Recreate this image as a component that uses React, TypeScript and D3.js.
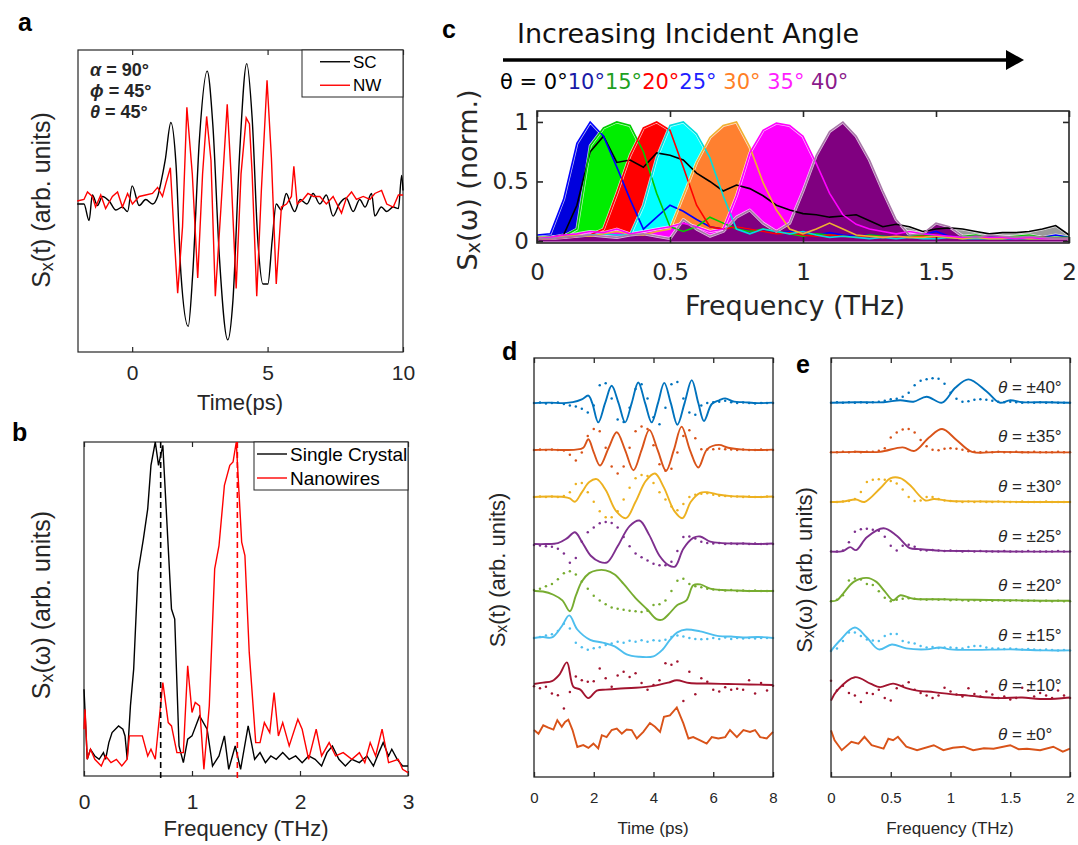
import React, { useEffect, useRef } from 'react';
import * as d3 from 'd3';

type Pt = [number, number];

const ARIAL = '"Liberation Sans", Arial, sans-serif';
const VERDANA = '"DejaVu Sans", Verdana, sans-serif';
const INK = '#262626';

// ---------- panel a : time traces (ps, arb.)
const aSC: Pt[] = [
  [-2.03, -0.02], [-1.78, -0.02], [-1.59, -0.13], [-1.47, 0.04], [-1.28, -0.03], [-1.1, 0.03], [-0.85, 0], [-0.6, -0.06],
  [-0.36, -0.04], [-0.17, -0.07], [0, 0.1], [0.26, -0.03], [0.5, 0.01], [0.75, -0.02], [0.94, 0.03], [1.06, 0.12],
  [1.22, 0.27], [1.43, 0.52], [1.62, 0.24], [1.8, -0.48], [2.07, -0.83], [2.23, -0.5], [2.48, 0.4], [2.77, 0.86],
  [2.98, 0.5], [3.22, -0.37], [3.53, -0.92], [3.72, -0.66], [3.96, 0.29], [4.23, 0.91], [4.43, 0.55], [4.64, -0.26],
  [4.83, -0.55], [5.01, -0.55], [5.17, -0.26], [5.32, -0.02], [5.51, -0.06], [5.69, 0.05], [5.85, -0.02], [6.0, -0.07],
  [6.2, 0.01], [6.45, -0.02], [6.68, 0.05], [6.93, -0.02], [7.17, 0.04], [7.42, -0.1], [7.65, -0.02], [7.9, 0.02],
  [8.16, -0.07], [8.4, 0.01], [8.6, -0.04], [8.84, 0.05], [8.96, -0.1], [9.2, -0.04], [9.4, -0.07], [9.64, -0.04],
  [9.83, -0.05], [9.95, 0.17], [10, 0.07],
];
const aNW: Pt[] = [
  [-2.03, 0], [-1.78, 0.01], [-1.65, 0.06], [-1.47, 0.03], [-1.35, -0.04], [-1.16, 0.04], [-0.98, -0.05], [-0.73, 0.03],
  [-0.54, 0.06], [-0.36, -0.04], [-0.17, 0.05], [0.01, -0.02], [0.26, 0.03], [0.5, 0.04], [0.75, 0.05], [0.94, 0.09],
  [1.12, 0.03], [1.25, 0.12], [1.41, 0.22], [1.56, -0.26], [1.68, -0.61], [1.86, -0.17], [2.02, 0.62], [2.22, 0.18],
  [2.42, -0.51], [2.6, 0.18], [2.75, 0.56], [2.91, 0.27], [3.07, -0.63], [3.28, -0.04], [3.51, 0.64], [3.65, 0.18],
  [3.84, -0.58], [4.02, 0.18], [4.21, 0.55], [4.33, 0.51], [4.43, 0.18], [4.6, -0.63], [4.77, 0.07], [4.98, 0.8],
  [5.14, 0.29], [5.32, -0.55], [5.51, -0.04], [5.7, -0.02], [5.88, 0.03], [5.97, 0.23], [6.09, -0.02], [6.31, 0.01],
  [6.49, 0.05], [6.7, 0.03], [6.93, 0.03], [7.17, -0.02], [7.42, 0.03], [7.73, -0.08], [7.91, 0.02], [8.1, 0.06],
  [8.28, 0.01], [8.53, 0.03], [8.78, 0.01], [8.96, 0.05], [9.21, 0.07], [9.4, -0.02], [9.64, -0.04], [9.83, 0.04], [10, 0.04],
];
const aTicks = [0, 5, 10];
const aNotes: [string, string][] = [['α', ' = 90°'], ['ϕ', ' = 45°'], ['θ', ' = 45°']];
const aLegend = ['SC', 'NW'];

// ---------- panel b : spectra (THz, arb.)
const bSC: Pt[] = [
  [0, 0.26], [0.03, 0.05], [0.06, 0.08], [0.1, 0.06], [0.14, 0.05], [0.18, 0.07], [0.2, 0.05], [0.23, 0.1], [0.26, 0.13],
  [0.32, 0.15], [0.36, 0.14], [0.38, 0.12], [0.4, 0.05], [0.43, 0.21], [0.46, 0.32], [0.5, 0.61], [0.55, 0.71], [0.59, 0.8],
  [0.62, 0.93], [0.66, 1.0], [0.69, 0.93], [0.73, 0.99], [0.81, 0.5], [0.84, 0.47], [0.88, 0.09], [0.92, 0.04], [0.96, 0.11],
  [1.0, 0.12], [1.07, 0.18], [1.14, 0.14], [1.19, 0.03], [1.25, 0.06], [1.3, 0.12], [1.34, 0.02], [1.4, 0.09], [1.45, 0.02],
  [1.52, 0.15], [1.58, 0.05], [1.63, 0.07], [1.68, 0.04], [1.73, 0.06], [1.78, 0.05], [1.84, 0.07], [1.9, 0.05], [1.96, 0.06],
  [2.02, 0.04], [2.08, 0.06], [2.14, 0.05], [2.2, 0.03], [2.25, 0.07], [2.3, 0.09], [2.36, 0.05], [2.42, 0.03], [2.48, 0.05],
  [2.55, 0.04], [2.62, 0.06], [2.68, 0.03], [2.73, 0.07], [2.77, 0.1], [2.82, 0.06], [2.85, 0.08], [2.9, 0.05], [2.95, 0.03], [3.0, 0.03],
];
const bNW: Pt[] = [
  [0, 0.14], [0.01, 0.2], [0.03, 0.05], [0.06, 0.08], [0.1, 0.05], [0.16, 0.03], [0.2, 0.06], [0.25, 0.04], [0.3, 0.05],
  [0.35, 0.03], [0.4, 0.05], [0.42, 0.12], [0.48, 0.12], [0.54, 0.12], [0.59, 0.06], [0.62, 0.08], [0.66, 0.05], [0.73, 0.28],
  [0.78, 0.16], [0.81, 0.15], [0.86, 0.07], [0.92, 0.07], [0.96, 0.33], [1.0, 0.19], [1.03, 0.22], [1.07, 0.21], [1.11, 0.02],
  [1.16, 0.21], [1.21, 0.62], [1.25, 0.69], [1.3, 0.87], [1.35, 0.93], [1.38, 0.94], [1.41, 1.0], [1.46, 0.7], [1.49, 0.66],
  [1.53, 0.37], [1.59, 0.1], [1.63, 0.1], [1.67, 0.16], [1.72, 0.13], [1.76, 0.25], [1.8, 0.12], [1.84, 0.16], [1.9, 0.09],
  [1.98, 0.17], [2.02, 0.14], [2.08, 0.05], [2.15, 0.14], [2.2, 0.06], [2.27, 0.1], [2.33, 0.06], [2.4, 0.07], [2.48, 0.05],
  [2.55, 0.07], [2.6, 0.04], [2.65, 0.1], [2.7, 0.06], [2.76, 0.14], [2.82, 0.04], [2.91, 0.05], [2.95, 0.02], [3.0, 0.01],
];
const bTicks = [0, 1, 2, 3];
const bPeaks = [0.71, 1.42];
const bLegend = ['Single Crystal', 'Nanowires'];

// ---------- panel c : normalised spectra, 0 to 2 THz every 0.05 THz
const cStep = 0.05;
const c0 = [0.02, 0.03, 0.05, 0.3, 0.75, 0.88, 0.66, 0.68, 0.62, 0.74, 0.72, 0.68, 0.57, 0.5, 0.42, 0.47, 0.44, 0.38, 0.3, 0.26,
  0.23, 0.22, 0.2, 0.21, 0.22, 0.17, 0.12, 0.14, 0.12, 0.08, 0.1, 0.11, 0.1, 0.08, 0.06, 0.07, 0.07, 0.08, 0.1, 0.13, 0.05];
const c10 = [0.05, 0.06, 0.35, 0.82, 1.0, 0.88, 0.62, 0.35, 0.1, 0.2, 0.3, 0.25, 0.18, 0.12, 0.1, 0.12, 0.1, 0.08, 0.06, 0.08,
  0.06, 0.05, 0.07, 0.05, 0.04, 0.05, 0.04, 0.03, 0.04, 0.05, 0.08, 0.04, 0.03, 0.03, 0.04, 0.03, 0.03, 0.04, 0.03, 0.05, 0.03];
const c15 = [0.03, 0.03, 0.04, 0.1, 0.8, 0.95, 1.0, 0.97, 0.75, 0.4, 0.12, 0.08, 0.12, 0.2, 0.15, 0.1, 0.08, 0.1, 0.08, 0.06,
  0.04, 0.06, 0.05, 0.04, 0.03, 0.05, 0.04, 0.03, 0.04, 0.05, 0.04, 0.03, 0.04, 0.05, 0.03, 0.03, 0.04, 0.05, 0.03, 0.03, 0.03];
const c20 = [0.02, 0.02, 0.03, 0.04, 0.05, 0.1, 0.4, 0.72, 0.95, 1.0, 0.93, 0.62, 0.3, 0.12, 0.1, 0.12, 0.1, 0.08, 0.06, 0.07,
  0.05, 0.04, 0.05, 0.04, 0.03, 0.04, 0.03, 0.03, 0.03, 0.04, 0.03, 0.03, 0.02, 0.03, 0.02, 0.03, 0.02, 0.02, 0.03, 0.02, 0.02];
const c25 = [0.03, 0.03, 0.04, 0.04, 0.05, 0.06, 0.05, 0.05, 0.3, 0.7, 0.97, 1.0, 0.9, 0.7, 0.38, 0.1, 0.06, 0.1, 0.08, 0.06,
  0.08, 0.05, 0.03, 0.04, 0.03, 0.02, 0.03, 0.02, 0.03, 0.02, 0.02, 0.03, 0.02, 0.02, 0.02, 0.02, 0.02, 0.02, 0.02, 0.02, 0.02];
const c30 = [0.03, 0.03, 0.04, 0.05, 0.04, 0.06, 0.08, 0.06, 0.05, 0.08, 0.1, 0.38, 0.66, 0.87, 0.97, 1.0, 0.79, 0.49, 0.26, 0.1,
  0.06, 0.1, 0.15, 0.1, 0.05, 0.04, 0.03, 0.04, 0.03, 0.03, 0.04, 0.03, 0.02, 0.03, 0.02, 0.02, 0.03, 0.02, 0.02, 0.02, 0.02];
const c35 = [0.02, 0.03, 0.05, 0.06, 0.08, 0.07, 0.1, 0.06, 0.08, 0.1, 0.12, 0.15, 0.12, 0.08, 0.1, 0.38, 0.74, 0.93, 0.99, 0.97,
  0.88, 0.65, 0.4, 0.22, 0.14, 0.1, 0.08, 0.06, 0.08, 0.06, 0.05, 0.04, 0.03, 0.04, 0.03, 0.03, 0.02, 0.03, 0.02, 0.02, 0.02];
const c40 = [0.02, 0.02, 0.03, 0.04, 0.05, 0.04, 0.03, 0.05, 0.06, 0.04, 0.02, 0.18, 0.1, 0.04, 0.08, 0.2, 0.26, 0.15, 0.08, 0.15,
  0.42, 0.72, 0.92, 1.0, 0.88, 0.68, 0.42, 0.18, 0.05, 0.06, 0.15, 0.12, 0.04, 0.03, 0.05, 0.04, 0.03, 0.04, 0.03, 0.02, 0.02];
const cSeries = [c0, c10, c15, c20, c25, c30, c35, c40];
const cLegendText = ['θ = 0°', '10°', '15°', '20°', '25°', ' 30°', ' 35°', ' 40°'];
const cFill = ['#9a9a9a', '#0000dd', '#00ee00', '#ff0000', '#00ffff', '#ff8030', '#ff00ff', '#800080'];
const cLine = ['#000000', '#0000ff', '#00cc00', '#ff0000', '#00dddd', '#f0b030', '#ff00ff', '#a878a8'];
const cLegendColor = ['#000000', '#1a1aa6', '#1fa01f', '#ff0000', '#1f1fff', '#ff7f27', '#ff1fff', '#8b1a8b'];
const cXTicks = [0, 0.5, 1, 1.5, 2];
const cYTicks = [0, 0.5, 1];

// ---------- panels d, e : offset traces, index 0 = 0° (bottom) ... 7 = 40° (top)
const deAngles = ['±0°', '±10°', '±15°', '±20°', '±25°', '±30°', '±35°', '±40°'];
const deColors = ['#D95319', '#A2142F', '#4DBEEE', '#77AC30', '#7E2F8E', '#EDB120', '#D95319', '#0072BD'];

const dStep = 0.2; // ps between dots
const dS0: Pt[] = [[0, 0.04], [0.15, -0.04], [0.31, 0.14], [0.48, 0.09], [0.65, 0.05], [0.78, 0.25], [0.93, 0.11], [1.04, 0.21],
  [1.15, 0.26], [1.29, 0.04], [1.45, -0.32], [1.65, -0.28], [1.82, -0.34], [1.99, -0.25], [2.15, -0.35], [2.27, -0.07],
  [2.43, -0.11], [2.6, 0.04], [2.77, 0.07], [2.94, -0.04], [3.1, 0.05], [3.27, 0.04], [3.44, -0.14], [3.66, 0], [3.88, 0.19],
  [4.05, 0.11], [4.22, 0], [4.35, 0.32], [4.55, 0.35], [4.78, 0.52], [5.0, 0.18], [5.17, -0.14], [5.33, -0.11], [5.56, -0.18],
  [5.78, -0.25], [5.95, -0.11], [6.17, -0.14], [6.4, -0.11], [6.56, 0.04], [6.79, -0.11], [7.01, 0.04], [7.23, 0], [7.4, 0.04],
  [7.57, -0.11], [7.79, -0.14], [8, 0]];
const dS10: Pt[] = [[0, 0.02], [0.3, 0.05], [0.6, 0.08], [0.85, 0.22], [1.1, 0.48], [1.32, -0.04], [1.55, -0.1], [1.82, -0.28],
  [2.1, -0.12], [2.4, -0.1], [2.8, -0.08], [3.4, -0.06], [4.0, -0.02], [4.5, 0.05], [4.78, 0.1], [5.2, 0.04], [5.8, 0.03],
  [6.5, 0.02], [7.2, 0.01], [8, 0]];
const dS15: Pt[] = [[0, 0], [0.3, 0.02], [0.6, 0.01], [0.93, 0.25], [1.18, 0.48], [1.45, 0.18], [1.88, -0.04], [2.3, -0.1],
  [2.7, -0.18], [3.1, -0.35], [3.5, -0.4], [4.0, -0.39], [4.3, -0.25], [4.55, -0.04], [4.8, 0.12], [5.1, 0.18], [5.56, 0.14],
  [6.2, 0.04], [6.6, 0.03], [7, 0.01], [7.5, 0.02], [8, 0]];
const dS20: Pt[] = [[0, 0], [0.3, -0.01], [0.65, -0.08], [0.95, -0.2], [1.2, -0.43], [1.4, -0.1], [1.6, 0.2], [1.85, 0.38],
  [2.1, 0.44], [2.4, 0.44], [2.7, 0.35], [3.0, 0.15], [3.4, -0.15], [3.8, -0.4], [4.1, -0.6], [4.3, -0.61], [4.5, -0.5],
  [4.8, -0.3], [5.1, -0.2], [5.33, 0.12], [5.56, 0.14], [5.9, 0.05], [6.3, 0.02], [6.8, 0.01], [7.3, 0], [8, 0]];
const dS25: Pt[] = [[0, 0], [0.4, 0], [0.8, 0.02], [1.1, 0.12], [1.37, 0.25], [1.6, 0.05], [1.9, -0.25], [2.2, -0.38],
  [2.45, -0.39], [2.8, -0.05], [3.2, 0.38], [3.53, 0.5], [3.85, 0.2], [4.2, -0.25], [4.5, -0.45], [4.72, -0.48], [5.0, -0.1],
  [5.33, 0.13], [5.56, 0.16], [5.9, 0.05], [6.3, 0.02], [7, 0.01], [7.5, 0], [8, 0.01]];
const dS30: Pt[] = [[0, 0], [0.5, 0.01], [1.0, 0], [1.2, -0.03], [1.37, -0.1], [1.6, 0.1], [1.85, 0.32], [2.1, 0.38], [2.4, 0.15],
  [2.75, -0.3], [3.08, -0.45], [3.4, -0.1], [3.75, 0.35], [4.05, 0.5], [4.35, 0.2], [4.7, -0.3], [4.97, -0.45], [5.25, -0.1],
  [5.56, 0.09], [5.84, 0.1], [6.2, 0.05], [6.6, 0.02], [7, 0.01], [7.5, 0], [8, 0.01]];
const dS35: Pt[] = [[0, 0], [0.5, 0.01], [1.0, 0], [1.4, 0.01], [1.65, 0.05], [1.82, 0.23], [2.0, -0.05], [2.21, -0.33], [2.5, 0.05],
  [2.77, 0.38], [3.05, 0], [3.33, -0.43], [3.6, 0], [3.86, 0.43], [4.14, 0], [4.42, -0.44], [4.68, 0], [4.94, 0.5], [5.22, 0],
  [5.5, -0.37], [5.8, 0.02], [6.19, 0.11], [6.5, 0.05], [7.0, 0.01], [7.5, 0], [8, 0.01]];
const dS40: Pt[] = [[0, 0], [0.5, 0.01], [1.0, 0], [1.3, 0.02], [1.6, 0.08], [1.82, 0.16], [1.95, 0], [2.15, -0.41], [2.38, 0],
  [2.6, 0.37], [2.83, 0], [3.05, -0.41], [3.27, 0], [3.49, 0.44], [3.72, 0], [3.94, -0.41], [4.15, 0], [4.36, 0.43], [4.58, 0],
  [4.8, -0.46], [5.04, 0], [5.28, 0.49], [5.5, 0], [5.69, -0.38], [5.95, -0.02], [6.2, 0.06], [6.4, 0.1], [6.7, 0.03], [7.0, 0.02],
  [7.5, 0], [8, 0.01]];
const dD10 = [-0.03, -0.07, -0.04, -0.18, -0.22, -0.5, -0.15, 0.18, 0.1, 0.07, 0.08, 0.35, 0.14, -0.04, 0.2, 0.28, 0.17, 0.25, 0.04, -0.1,
  0, 0.1, 0.46, 0.43, 0.5, -0.34, 0.28, -0.2, 0.14, 0.07, -0.1, -0.14, -0.05, -0.1, -0.08, -0.1, 0.1, -0.18, 0.04, -0.12, -0.02];
const dD15 = [0, 0.02, 0.05, 0.08, 0.15, 0.3, 0.2, -0.1, -0.2, -0.25, -0.22, -0.2, -0.15, -0.12, -0.08, -0.1, -0.06, -0.08, -0.05, -0.08,
  -0.05, -0.06, -0.04, 0.02, 0.05, 0.03, 0, -0.02, -0.03, -0.02, 0, -0.02, 0.01, -0.02, 0, -0.01, 0, -0.01, 0, 0, 0];
const dD20 = [0.02, 0.05, 0.1, 0.15, 0.25, 0.38, 0.42, 0.35, 0.2, 0.05, -0.1, -0.2, -0.28, -0.35, -0.38, -0.4, -0.42, -0.43, -0.45, -0.42,
  -0.3, -0.28, -0.2, 0, 0.22, 0.26, 0.15, 0.1, 0.08, 0.05, 0.03, 0.02, 0.01, 0.02, 0, 0.01, 0, 0.01, 0, 0, 0];
const dD25 = [-0.02, -0.03, -0.05, -0.06, -0.1, -0.2, -0.4, -0.3, 0.05, 0.25, 0.35, 0.44, 0.47, 0.45, 0.35, 0.15, -0.05, -0.2, -0.28, -0.35,
  -0.42, -0.45, -0.45, -0.38, -0.15, 0.15, 0.16, 0.12, 0.05, 0.02, 0.01, 0.02, 0, 0.01, 0, 0.01, 0, 0.01, 0, 0, 0];
const dD30 = [0, 0.01, 0, 0.01, 0, 0.02, 0.1, 0.28, 0.3, 0.1, -0.1, -0.3, -0.43, -0.43, -0.3, -0.05, 0.2, 0.4, 0.47, 0.45,
  0.3, 0.1, -0.05, -0.2, -0.28, -0.15, 0, 0.05, 0.07, 0.08, 0.05, 0.03, 0.02, 0.01, 0.01, 0, 0.01, 0, 0, 0.01, 0];
const dD35 = [0, 0.01, 0, 0.01, 0, -0.01, -0.1, -0.22, -0.05, 0.3, 0.45, 0.4, 0.05, -0.35, -0.5, -0.35, 0.05, 0.4, 0.5, 0.45,
  0.1, -0.3, -0.44, -0.4, -0.05, 0.3, 0.42, 0.25, 0.02, 0.01, 0.02, 0.03, 0.02, 0.01, 0, 0.01, 0, 0, 0.01, 0, 0];
const dD40 = [0, 0.01, -0.01, 0, 0.01, -0.02, -0.05, -0.07, -0.12, -0.2, -0.05, 0.38, 0.42, 0.1, -0.35, -0.4, -0.1, 0.3, 0.4, 0.1,
  -0.3, -0.45, -0.1, 0.4, 0.45, 0.1, -0.2, -0.25, -0.05, 0, 0.02, 0.03, 0.05, 0.02, 0, 0.01, 0, -0.01, 0, 0, 0];
const dSolid = [dS0, dS10, dS15, dS20, dS25, dS30, dS35, dS40];
const dDots = [null, dD10, dD15, dD20, dD25, dD30, dD35, dD40];
const dTicks = [0, 2, 4, 6, 8];

const eStep = 0.05; // THz between dots
const eS0: Pt[] = [[0, 0.4], [0.03, 0.2], [0.09, 0], [0.17, 0.17], [0.23, 0.13], [0.28, 0.27], [0.34, 0.1], [0.44, 0.03], [0.48, 0.23],
  [0.52, 0.2], [0.56, 0.27], [0.63, 0.07], [0.72, 0], [0.86, 0.1], [0.94, 0], [1.02, 0.05], [1.11, 0.07], [1.19, 0], [1.28, 0.04],
  [1.36, 0.03], [1.5, 0.1], [1.57, 0.02], [1.64, 0.03], [1.75, 0], [1.86, 0.07], [1.94, -0.03], [2, 0.03]];
const eS10: Pt[] = [[0, 0], [0.05, 0.2], [0.2, 0.47], [0.33, 0.34], [0.41, 0.27], [0.52, 0.34], [0.63, 0.25], [0.72, 0.2], [0.86, 0.17],
  [1.0, 0.13], [1.15, 0.1], [1.4, 0.05], [1.6, 0.06], [1.75, 0.03], [1.95, 0.05], [2, 0.06]];
const eS15: Pt[] = [[0, 0], [0.07, 0.2], [0.2, 0.47], [0.3, 0.27], [0.4, 0.03], [0.51, 0.13], [0.63, 0.05], [0.8, 0.03], [0.91, 0.07],
  [1.0, 0.03], [1.2, 0.02], [1.5, 0.03], [1.8, 0.01], [2, 0.01]];
const eS20: Pt[] = [[0, 0], [0.05, 0.02], [0.1, 0.15], [0.19, 0.39], [0.3, 0.47], [0.38, 0.39], [0.45, 0.2], [0.52, 0.02], [0.58, 0.12],
  [0.69, 0.05], [0.9, 0.04], [1.2, 0.03], [1.5, 0.02], [1.8, 0.01], [2, 0.01]];
const eS25: Pt[] = [[0, 0], [0.1, 0.01], [0.16, 0.09], [0.21, 0.03], [0.3, 0.29], [0.44, 0.47], [0.55, 0.32], [0.66, 0.07], [0.74, 0.05],
  [0.91, 0.02], [1.2, 0.01], [1.6, 0], [2, 0]];
const eS30: Pt[] = [[0, 0], [0.1, 0.01], [0.21, 0.05], [0.28, 0], [0.41, 0.27], [0.5, 0.48], [0.58, 0.48], [0.66, 0.34], [0.79, 0.03],
  [0.86, 0.06], [1.0, 0.02], [1.3, 0.01], [1.6, 0], [2, 0]];
const eS35: Pt[] = [[0, 0], [0.2, 0.01], [0.41, 0.01], [0.6, 0.1], [0.7, 0.03], [0.82, 0.3], [0.93, 0.47], [1.05, 0.25], [1.18, 0.01],
  [1.4, 0.01], [1.7, 0], [2, 0]];
const eS40: Pt[] = [[0, 0], [0.2, 0.01], [0.44, 0.01], [0.58, 0.05], [0.69, 0.02], [0.8, 0.12], [0.93, 0], [1.04, 0.3], [1.15, 0.47],
  [1.3, 0.23], [1.41, 0], [1.5, 0.05], [1.6, 0.01], [1.8, 0.01], [2, 0]];
const eD10 = [0.4, 0.2, 0.3, 0.15, 0.1, -0.03, 0.15, 0.13, 0.22, 0.05, 0, 0.25, 0.3, 0.37, 0.22, 0.15, 0.1, 0.05, 0.1, 0.26,
  0.18, 0.12, 0.08, 0.25, 0.13, 0.08, 0.18, 0.12, 0.05, 0.08, 0.02, 0.05, 0.26, 0.2, 0.08, 0.15, 0.1, 0.05, 0.2, 0.1, 0.05];
const eD15 = [0, 0.05, 0.2, 0.37, 0.37, 0.3, 0.23, 0.21, 0.2, 0.3, 0.34, 0.34, 0.2, 0.17, 0.15, 0.1, 0.07, 0.08, 0.06, 0.07,
  0.07, 0.06, 0.05, 0.08, 0.1, 0.1, 0.07, 0.05, 0.05, 0.04, 0.05, 0.04, 0.03, 0.04, 0.03, 0.02, 0.03, 0.02, 0.01, 0.02, 0.01];
const eD20 = [0, 0.03, 0.12, 0.42, 0.46, 0.44, 0.35, 0.33, 0.2, 0.07, 0, 0.03, 0.05, 0.06, 0.05, 0.04, 0.03, 0.04, 0.03, 0.04,
  0.02, 0.03, 0.02, 0.01, 0.02, 0.01, 0.02, 0.01, 0.02, 0.01, 0.01, 0.02, 0.01, 0.01, 0.01, 0, 0.01, 0, 0.01, 0, 0];
const eD25 = [0, 0, 0.02, 0.19, 0.4, 0.45, 0.46, 0.44, 0.42, 0.3, 0.12, 0.02, 0.12, 0.14, 0.1, 0.03, 0.02, 0.03, 0.02, 0.01,
  0.02, 0.01, 0, 0.01, 0, 0.01, 0, 0, 0, 0.01, 0, 0, 0, 0.01, 0, 0, 0, 0, 0.01, 0, 0];
const eD30 = [0, 0, 0.01, 0.02, 0.06, 0.2, 0.4, 0.45, 0.46, 0.45, 0.42, 0.37, 0.25, 0.1, 0.02, 0.03, 0.1, 0.1, 0.06, 0.03,
  0.02, 0.01, 0, 0.01, 0, 0.01, 0, 0, 0.01, 0, 0, 0, 0.01, 0, 0, 0, 0.01, 0, 0, 0, 0];
const eD35 = [0, 0, 0.01, 0, 0.01, 0, 0.01, 0.01, 0.03, 0.08, 0.3, 0.4, 0.46, 0.47, 0.4, 0.25, 0.12, 0.05, 0.04, 0.07,
  0.08, 0.07, 0.05, 0.02, 0.01, 0, 0.01, 0, 0.01, 0, 0, 0.01, 0, 0, 0.01, 0, 0, 0, 0.01, 0, 0];
const eD40 = [0, 0.01, 0, 0.01, 0, 0.01, 0, 0.01, 0.02, 0.04, 0.07, 0.08, 0.12, 0.2, 0.35, 0.44, 0.47, 0.49, 0.48, 0.38,
  0.2, 0.08, 0.02, 0.03, 0.06, 0.07, 0.06, 0.04, 0.02, 0.01, 0.02, 0.01, 0, 0.01, 0, 0.01, 0, 0.01, 0, 0, 0];
const eSolid = [eS0, eS10, eS15, eS20, eS25, eS30, eS35, eS40];
const eDots = [null, eD10, eD15, eD20, eD25, eD30, eD35, eD40];
const eTicks = [0, 0.5, 1, 1.5, 2];

// box + inward ticks, labels on the bottom (and left if asked)
function frame(svg: any, x: any, y: any, o: any) {
  const [x0, x1] = x.range();
  const [yb, yt] = y.range();
  const len = o.len ?? 5;
  const fmt = (d: number) => String(d);
  const g = svg.append('g').attr('color', INK);
  const bot = g.append('g').attr('transform', `translate(0,${yb})`)
    .call(d3.axisBottom(x).tickValues(o.xt).tickSizeInner(-len).tickSizeOuter(0).tickPadding(o.pad).tickFormat(fmt));
  bot.selectAll('text').attr('font-family', o.font).attr('font-size', o.fs);
  g.append('g').attr('transform', `translate(0,${yt})`)
    .call(d3.axisTop(x).tickValues(o.xt).tickSizeInner(-len).tickSizeOuter(0).tickFormat(() => ''));
  if (o.yt) {
    const lft = g.append('g').attr('transform', `translate(${x0},0)`)
      .call(d3.axisLeft(y).tickValues(o.yt).tickSizeInner(-len).tickSizeOuter(0).tickPadding(o.ypad).tickFormat(fmt));
    lft.selectAll('text').attr('font-family', o.font).attr('font-size', o.fs);
    g.append('g').attr('transform', `translate(${x1},0)`)
      .call(d3.axisRight(y).tickValues(o.yt).tickSizeInner(-len).tickSizeOuter(0).tickFormat(() => ''));
  }
  g.selectAll('.domain').remove();
  g.selectAll('.tick line').attr('stroke-width', o.sw ?? 1.2);
  g.append('rect').attr('x', x0).attr('y', yt).attr('width', x1 - x0).attr('height', yb - yt)
    .attr('fill', 'none').attr('stroke', INK).attr('stroke-width', o.sw ?? 1.2);
}

function title(svg: any, x: number, y: number, txt: string, fs: number, font: string) {
  svg.append('text').attr('x', x).attr('y', y).attr('text-anchor', 'middle')
    .attr('font-family', font).attr('font-size', fs).attr('fill', INK).text(txt);
}

function yTitle(svg: any, x: number, y: number, rest: string, fs: number, font: string) {
  const t = svg.append('text').attr('transform', `translate(${x},${y}) rotate(-90)`).attr('text-anchor', 'middle')
    .attr('font-family', font).attr('font-size', fs).attr('fill', INK);
  t.append('tspan').text('S');
  t.append('tspan').attr('font-size', fs * 0.72).attr('dy', fs * 0.1).text('x');
  t.append('tspan').attr('dy', -fs * 0.1).text(rest);
}

function panelLabel(svg: any, x: number, y: number, txt: string) {
  svg.append('text').attr('x', x).attr('y', y).attr('font-family', ARIAL).attr('font-weight', 'bold')
    .attr('font-size', 25).attr('fill', '#000').text(txt);
}

function legend(svg: any, box: number[], names: string[], colors: string[], fs: number, inset: number) {
  const [lx, ly, lw, lh] = box;
  svg.append('rect').attr('x', lx).attr('y', ly).attr('width', lw).attr('height', lh)
    .attr('fill', '#fff').attr('stroke', INK).attr('stroke-width', 1);
  const row = lh / names.length;
  names.forEach((n, i) => {
    const cy = ly + row * (i + 0.5);
    svg.append('line').attr('x1', lx + inset).attr('x2', lx + inset + 30).attr('y1', cy).attr('y2', cy)
      .attr('stroke', colors[i]).attr('stroke-width', 1.4);
    svg.append('text').attr('x', lx + inset + 33).attr('y', cy).attr('dy', '0.35em')
      .attr('font-family', ARIAL).attr('font-size', fs).attr('fill', '#000').text(n);
  });
}

function drawA(svg: any) {
  const x = d3.scaleLinear([-2, 10], [78, 403]);
  const y = d3.scaleLinear([-1, 1], [352, 50]);
  frame(svg, x, y, { xt: aTicks, fs: 21, font: ARIAL, pad: 13 });
  const sc = d3.line<Pt>().x(d => x(d[0])).y(d => y(d[1])).curve(d3.curveMonotoneX);
  const nw = d3.line<Pt>().x(d => x(d[0])).y(d => y(d[1]));
  svg.append('path').attr('d', sc(aSC)).attr('fill', 'none').attr('stroke', '#000').attr('stroke-width', 1.4);
  svg.append('path').attr('d', nw(aNW)).attr('fill', 'none').attr('stroke', '#ff0000').attr('stroke-width', 1.4);
  legend(svg, [302, 50, 101, 47], aLegend, ['#000', '#ff0000'], 17, 18);
  aNotes.forEach(([g, rest], i) => {
    const t = svg.append('text').attr('x', 90).attr('y', 76 + i * 21).attr('font-family', ARIAL)
      .attr('font-weight', 'bold').attr('font-size', 18).attr('fill', INK);
    t.append('tspan').attr('font-style', 'italic').text(g);
    t.append('tspan').text(rest);
  });
  title(svg, 240, 410, 'Time(ps)', 22, ARIAL);
  yTitle(svg, 50, 200, '(t) (arb. units)', 25, ARIAL);
  panelLabel(svg, 18, 31, 'a');
}

function drawB(svg: any) {
  const x = d3.scaleLinear([0, 3], [84, 408]);
  const y = d3.scaleLinear([0, 1], [776, 442]);
  frame(svg, x, y, { xt: bTicks, fs: 21, font: ARIAL, pad: 18 });
  const ln = d3.line<Pt>().x(d => x(d[0])).y(d => y(d[1]));
  svg.append('path').attr('d', ln(bSC)).attr('fill', 'none').attr('stroke', '#000').attr('stroke-width', 1.4);
  svg.append('path').attr('d', ln(bNW)).attr('fill', 'none').attr('stroke', '#ff0000').attr('stroke-width', 1.4);
  bPeaks.forEach((p, i) => {
    svg.append('line').attr('x1', x(p)).attr('x2', x(p)).attr('y1', y(1)).attr('y2', y(0) + 5)
      .attr('stroke', i ? '#ff0000' : '#000').attr('stroke-width', 1.6).attr('stroke-dasharray', '6,4');
  });
  legend(svg, [254, 442, 154, 48], bLegend, ['#000', '#ff0000'], 19, 3);
  title(svg, 246, 836, 'Frequency (THz)', 22, ARIAL);
  yTitle(svg, 50, 605, '(ω) (arb. units)', 25, ARIAL);
  panelLabel(svg, 12, 441, 'b');
}

function drawC(svg: any) {
  const x = d3.scaleLinear([0, 2], [537, 1069]);
  const y = d3.scaleLinear([-0.017, 1.092], [243, 111]);
  const base = y.range()[0];
  const area = d3.area<number>().x((d, i) => x(i * cStep)).y0(base).y1(d => y(d));
  const line = d3.line<number>().x((d, i) => x(i * cStep)).y(d => y(d));
  cSeries.forEach((s, i) => {
    svg.append('path').attr('d', area(s)).attr('fill', cFill[i])
      .attr('stroke', 'rgba(255,255,255,0.75)').attr('stroke-width', 3).attr('stroke-linejoin', 'round');
  });
  cSeries.forEach((s, i) => {
    svg.append('path').attr('d', line(s)).attr('fill', 'none').attr('stroke', cLine[i]).attr('stroke-width', 1.6);
  });
  frame(svg, x, y, { xt: cXTicks, yt: cYTicks, fs: 23, font: VERDANA, pad: 21, ypad: 8, len: 6, sw: 1.6 });
  title(svg, 795, 315, 'Frequency (THz)', 27, VERDANA);
  yTitle(svg, 477, 180, '(ω) (norm.)', 27, VERDANA);
  const t = svg.append('text').attr('x', 500).attr('y', 89).attr('font-family', VERDANA).attr('font-size', 21)
    .style('white-space', 'pre');
  cLegendText.forEach((s, i) => t.append('tspan').attr('fill', cLegendColor[i]).text(s));
  // arrow
  svg.append('line').attr('x1', 503).attr('x2', 1008).attr('y1', 60).attr('y2', 60).attr('stroke', '#000').attr('stroke-width', 3.5);
  svg.append('path').attr('d', 'M1006,50 L1024,60 L1006,70 Z').attr('fill', '#000');
  svg.append('text').attr('x', 517).attr('y', 43).attr('font-family', VERDANA).attr('font-size', 27)
    .attr('textLength', 342).attr('fill', '#111').text('Increasing Incident Angle');
  panelLabel(svg, 442, 38, 'c');
}

function stack(svg: any, x: any, y: any, solids: Pt[][], dots: (number[] | null)[], step: number) {
  solids.forEach((s, k) => {
    const c = deColors[k];
    const d = dots[k];
    if (d) {
      svg.append('g').selectAll('circle').data(d).enter().append('circle')
        .attr('cx', (v: number, i: number) => x(i * step)).attr('cy', (v: number) => y(k + v))
        .attr('r', 1.25).attr('fill', c);
    }
    const ln = d3.line<Pt>().x(p => x(p[0])).y(p => y(k + p[1]))
      .curve(k === 0 ? d3.curveLinear : d3.curveCatmullRom.alpha(0.5));
    svg.append('path').attr('d', ln(s)).attr('fill', 'none').attr('stroke', c).attr('stroke-width', 1.9);
  });
}

function drawD(svg: any) {
  const x = d3.scaleLinear([0, 8], [534, 773]);
  const y = d3.scaleLinear([-0.96, 7.96], [777, 358]);
  stack(svg, x, y, dSolid, dDots, dStep);
  frame(svg, x, y, { xt: dTicks, fs: 15, font: ARIAL, pad: 15, sw: 1.3 });
  title(svg, 653, 834, 'Time (ps)', 17, ARIAL);
  yTitle(svg, 505, 570, '(t) (arb. units)', 22, ARIAL);
  panelLabel(svg, 502, 360, 'd');
}

function drawE(svg: any) {
  const x = d3.scaleLinear([0, 2], [831, 1070]);
  const y = d3.scaleLinear([-0.54, 7.9], [777, 358]);
  stack(svg, x, y, eSolid, eDots, eStep);
  frame(svg, x, y, { xt: eTicks, fs: 15, font: ARIAL, pad: 15, sw: 1.3 });
  deAngles.forEach((a, k) => {
    const t = svg.append('text').attr('x', 998).attr('y', y(k) - 10).attr('font-family', ARIAL)
      .attr('font-size', 17).attr('fill', INK);
    t.append('tspan').attr('font-style', 'italic').text('θ');
    t.append('tspan').text(` = ${a}`);
  });
  title(svg, 950, 834, 'Frequency (THz)', 17, ARIAL);
  yTitle(svg, 812, 570, '(ω) (arb. units)', 22, ARIAL);
  panelLabel(svg, 796, 373, 'e');
}

export default function App() {
  const ref = useRef<SVGSVGElement>(null);
  useEffect(() => {
    const svg = d3.select(ref.current);
    svg.selectAll('*').remove();
    drawA(svg);
    drawB(svg);
    drawC(svg);
    drawD(svg);
    drawE(svg);
  }, []);
  return (
    <svg ref={ref} width={1078} height={845}
      style={{ position: 'absolute', left: 0, top: 0, background: '#fff' }} />
  );
}
